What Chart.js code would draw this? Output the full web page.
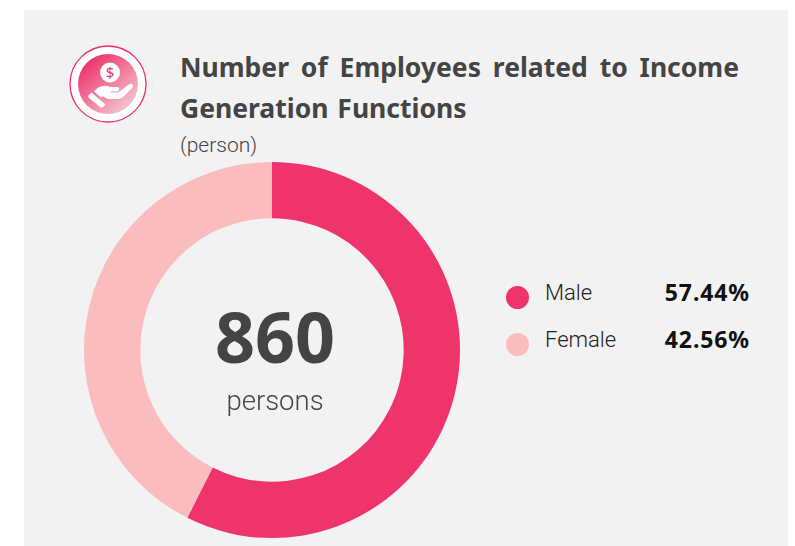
<!DOCTYPE html>
<html><head><meta charset="utf-8">
<script src="https://cdn.jsdelivr.net/npm/chart.js@4"></script>
<style>
html,body{margin:0;padding:0;background:#fff;width:795px;height:546px;overflow:hidden;font-family:"Noto Sans",sans-serif}
#panel{position:absolute;left:24px;top:10px;width:764px;height:536px;background:#f2f2f2}
#wrap{position:absolute;left:80px;top:158px;width:384px;height:384px}
.t{position:absolute;white-space:nowrap}
.title{left:180px;width:559px;font:700 26.5px "Noto Sans",sans-serif;color:#444;line-height:36px;text-align:justify;text-align-last:justify}
.light{font-family:Roboto,sans-serif;font-weight:300;color:#222}
.pct{font:700 23px "Noto Sans",sans-serif;color:#111;letter-spacing:.9px;right:45px}
.dot{position:absolute;width:23px;height:23px;border-radius:50%;left:506px}
svg{position:absolute;left:69px;top:45px}
</style></head><body>
<div id="panel"></div>
<svg width="78" height="78" viewBox="0 0 78 78">
<defs><linearGradient id="g" x1="0.15" y1="0.1" x2="0.85" y2="0.9"><stop offset="0" stop-color="#ee3069"/><stop offset="1" stop-color="#f3c6d0"/></linearGradient></defs>
<circle cx="39" cy="39" r="38" fill="#fff" stroke="#ee3069" stroke-width="1.3"/>
<circle cx="39" cy="39" r="30" fill="url(#g)"/>
<circle cx="41" cy="27.5" r="10" fill="#fff"/>
<text x="41" y="33" text-anchor="middle" font-family="Noto Sans" font-size="15" fill="#ee3069">$</text>
<path d="M28 43.500c4-3 9-3.500 13-1.500h7c3 0 3 4 0 4.500h-7l1 1h7l11-8c3-2 5.500 1 3 3.500l-9 9c-2 1.500-4 2-6 2H39l-5-2.500-2 1-7-6z" fill="#fff"/>
<path d="M20 50l2.500-2.500 14 12-2.500 2.500c-1 1-2 1-3 0L20 53c-1-1-1-2 0-3z" fill="#fff"/>
</svg>
<div class="t title" style="top:49px">Number of Employees related to Income</div>
<div class="t" style="left:180px;top:90px;font:700 26.5px/36px 'Noto Sans',sans-serif;color:#444;word-spacing:2px">Generation Functions</div>
<div class="t light" style="left:180px;top:133px;font-size:21px;color:#444">(person)</div>
<div id="wrap"><canvas id="c" width="384" height="384"></canvas></div>
<div class="t" id="total" style="left:175px;width:200px;text-align:center;top:291px;font:700 70px/90px 'Noto Sans',sans-serif;color:#444"></div>
<div class="t light" style="left:175px;width:200px;text-align:center;top:384px;font-size:27.500px;color:#444">persons</div>
<div id="legend"></div>
<script>
const categories=["Male","Female"];
const shares=[57.44,42.56];
const colors=["#ee346b","#fabcbc"];
const totalPersons=860;
new Chart(document.getElementById("c"),{type:"doughnut",
 data:{labels:categories,datasets:[{data:shares,backgroundColor:colors,borderWidth:0}]},
 options:{responsive:false,animation:false,radius:188,cutout:134.5,
  plugins:{legend:{display:false},tooltip:{enabled:false}}}});
document.getElementById("total").textContent=totalPersons;
const lg=document.getElementById("legend");
const ys=[285,332];
categories.forEach((c,i)=>{
 lg.insertAdjacentHTML("beforeend",
 `<div class="dot" style="top:${ys[i]+1}px;background:${colors[i]}"></div>`+
 `<div class="t light" style="left:545px;top:${ys[i]-5}px;font-size:22px">${c}</div>`+
 `<div class="t pct" style="top:${ys[i]-9}px">${shares[i].toFixed(2)}%</div>`);
});
</script>
</body></html>
